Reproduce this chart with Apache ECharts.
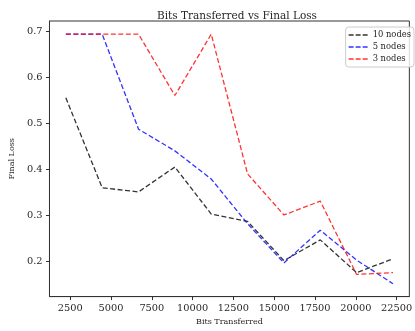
<!DOCTYPE html>
<html><head><meta charset="utf-8">
<script src="https://cdn.jsdelivr.net/npm/echarts@6/dist/echarts.min.js"></script>
<style>html,body{margin:0;padding:0;background:#fff}#c{width:415px;height:331px}</style>
</head><body><div id="c"></div>
<script>
const bits = [2228, 4456, 6684, 8912, 11140, 13368, 15596, 17824, 20052, 22280];
const loss10 = [0.555, 0.360, 0.351, 0.405, 0.303, 0.287, 0.202, 0.247, 0.176, 0.206];
const loss5 = [0.693, 0.693, 0.487, 0.440, 0.379, 0.282, 0.197, 0.268, 0.203, 0.152];
const loss3 = [0.693, 0.693, 0.693, 0.560, 0.693, 0.390, 0.301, 0.331, 0.172, 0.176];
const xTicks = [2500, 5000, 7500, 10000, 12500, 15000, 17500, 20000, 22500];
const yTicks = [0.2, 0.3, 0.4, 0.5, 0.6, 0.7];
const seriesNames = ['10 nodes', '5 nodes', '3 nodes'];
const colors = ['rgba(0,0,0,0.8)', 'rgba(0,0,255,0.8)', 'rgba(255,0,0,0.8)'];

const font = 'DejaVu Serif';
const txt = '#262626';
const pair = (ys) => bits.map((b, i) => [b, ys[i]]);
const dashIcon = 'path://M0,0h5v1.5h-5z M7,0h5v1.5h-5z M14,0h5v1.5h-5z';

const chart = echarts.init(document.getElementById('c'), null, {renderer: 'canvas'});
chart.setOption({
  animation: false,
  backgroundColor: '#fff',
  title: {
    text: 'Bits Transferred vs Final Loss', left: 232, top: 6, textAlign: 'center',
    textStyle: {fontFamily: font, fontSize: 10.5, fontWeight: 'normal', color: txt}
  },
  grid: {left: 45, top: 21, right: -4, bottom: 32, show: true, borderColor: '#333', borderWidth: 1, backgroundColor: 'transparent'},
  legend: {
    right: 1, top: 27, orient: 'vertical', itemGap: 2,
    itemWidth: 19, itemHeight: 2, icon: dashIcon,
    backgroundColor: 'rgba(255,255,255,0.8)', borderColor: '#ccc', borderWidth: 1, borderRadius: 3,
    padding: [3, 3, 3, 3],
    textStyle: {fontFamily: font, fontSize: 8.4, lineHeight: 10, color: txt},
    data: seriesNames.map((n, i) => ({name: n, itemStyle: {color: colors[i]}}))
  },
  xAxis: {
    type: 'value', min: 1225, max: 23283,
    name: 'Bits Transferred', nameLocation: 'middle', nameGap: 21,
    nameTextStyle: {fontFamily: font, fontSize: 8, color: txt},
    axisLine: {show: true, lineStyle: {color: '#333'}},
    axisTick: {show: true, customValues: xTicks, length: 3.5, lineStyle: {color: '#333'}},
    axisLabel: {customValues: xTicks, fontFamily: font, fontSize: 9.8, color: txt, margin: 6.5, formatter: v => String(v)},
    splitLine: {show: false}
  },
  yAxis: {
    type: 'value', min: 0.124, max: 0.7216,
    name: 'Final Loss', nameLocation: 'middle', nameGap: 27, nameRotate: 90,
    nameTextStyle: {fontFamily: font, fontSize: 8, color: txt},
    axisLine: {show: true, lineStyle: {color: '#333'}},
    axisTick: {show: true, customValues: yTicks, length: 3.5, lineStyle: {color: '#333'}},
    axisLabel: {customValues: yTicks, fontFamily: font, fontSize: 9.8, color: txt, margin: 7, formatter: v => v.toFixed(1)},
    splitLine: {show: false}
  },
  series: [loss10, loss5, loss3].map((d, i) => ({
    name: seriesNames[i], type: 'line', data: pair(d), showSymbol: false, symbol: 'none',
    itemStyle: {color: colors[i]},
    lineStyle: {color: colors[i], width: 1.3, type: [5, 2.5]}
  }))
});
</script></body></html>
